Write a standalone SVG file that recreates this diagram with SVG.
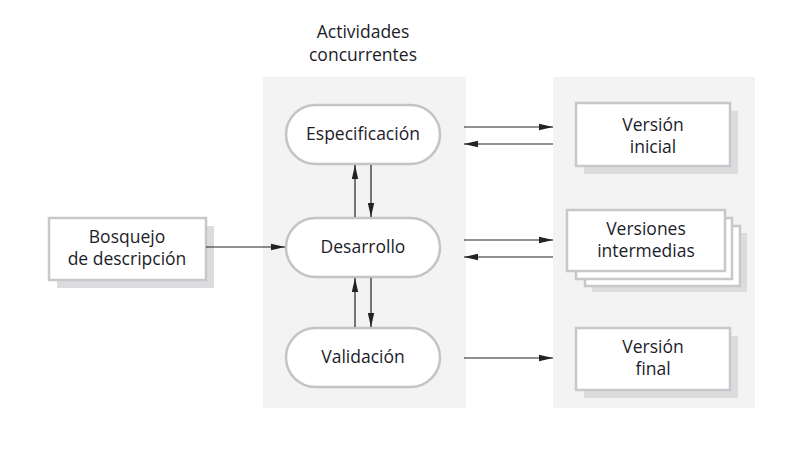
<svg xmlns="http://www.w3.org/2000/svg" width="811" height="461" viewBox="0 0 811 461">
<style>
text{font-family:"Open Sans","Noto Sans","Liberation Sans",sans-serif;font-size:17.5px;fill:#1c1c2a;text-anchor:middle}
.panel{fill:#f3f3f3}
.pill{fill:#fff;stroke:#c4c4c8;stroke-width:2.5}
.box{fill:#fff;stroke:#c8c8cc;stroke-width:2.5}
.sh{fill:#dcdcde}
.con{stroke:#222;stroke-width:1.2;fill:none;marker-end:url(#ah)}
</style>
<defs>
<marker id="ah" viewBox="0 0 14 8" refX="14" refY="4" markerWidth="14" markerHeight="8" markerUnits="userSpaceOnUse" orient="auto">
<path d="M0,0.8 L14,4 L0,7.2 Z" fill="#222"/>
</marker>
</defs>
<rect width="811" height="461" fill="#fff"/>
<rect class="panel" x="263" y="77" width="203" height="331"/>
<rect class="panel" x="553" y="77" width="202" height="331"/>
<g id="title">
<text x="363" y="38">Actividades</text>
<text x="363" y="61">concurrentes</text>
</g>
<g id="especificacion">
<rect class="pill" x="286" y="105" width="154" height="59" rx="29.5"/>
<text x="363" y="140">Especificación</text>
</g>
<g id="desarrollo">
<rect class="pill" x="286" y="218" width="154" height="59" rx="29.5"/>
<text x="363" y="253">Desarrollo</text>
</g>
<g id="validacion">
<rect class="pill" x="286" y="328" width="154" height="59" rx="29.5"/>
<text x="363" y="363">Validación</text>
</g>
<g id="bosquejo">
<rect class="sh" x="57" y="226" width="157" height="62"/>
<rect class="box" x="49" y="218" width="157" height="62"/>
<text x="127" y="243">Bosquejo</text>
<text x="127" y="265">de descripción</text>
</g>
<g id="version-inicial">
<rect class="sh" x="584" y="111" width="154" height="63"/>
<rect class="box" x="576" y="103" width="154" height="63"/>
<text x="653" y="131">Versión</text>
<text x="653" y="153">inicial</text>
</g>
<g id="versiones-intermedias">
<rect class="sh" x="592" y="233" width="155" height="59"/>
<rect class="box" x="585" y="226" width="155" height="60"/>
<rect class="box" x="576" y="218" width="156" height="61"/>
<rect class="box" x="567" y="210" width="158" height="61"/>
<text x="646" y="235">Versiones</text>
<text x="646" y="257">intermedias</text>
</g>
<g id="version-final">
<rect class="sh" x="584" y="336" width="154" height="62"/>
<rect class="box" x="576" y="328" width="154" height="62"/>
<text x="653" y="353">Versión</text>
<text x="653" y="375">final</text>
</g>
<g id="connectors">
<line class="con" x1="206" y1="247" x2="285" y2="247"/>
<line class="con" x1="355" y1="217" x2="355" y2="165"/>
<line class="con" x1="371" y1="165" x2="371" y2="217"/>
<line class="con" x1="355" y1="327" x2="355" y2="278"/>
<line class="con" x1="371" y1="278" x2="371" y2="327"/>
<line class="con" x1="464" y1="127" x2="553" y2="127"/>
<line class="con" x1="553" y1="144" x2="464" y2="144"/>
<line class="con" x1="464" y1="240" x2="553" y2="240"/>
<line class="con" x1="553" y1="257" x2="464" y2="257"/>
<line class="con" x1="464" y1="358" x2="553" y2="358"/>
</g>
</svg>
